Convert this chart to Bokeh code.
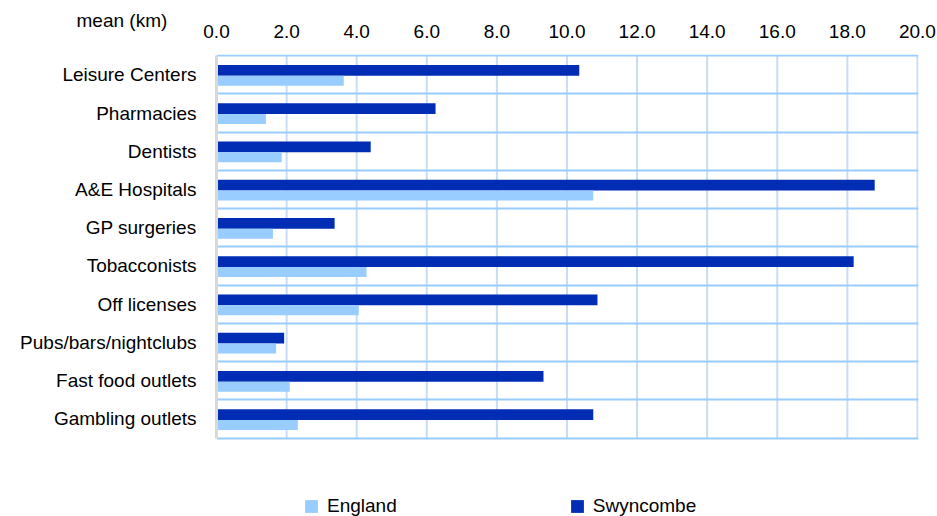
from bokeh.plotting import figure
from bokeh.models import Range1d, FixedTicker, Legend, LegendItem, ColumnDataSource, Title
from bokeh.transform import dodge
from bokeh.embed import file_html
from bokeh.resources import INLINE

categories = ["Leisure Centers", "Pharmacies", "Dentists", "A&E Hospitals", "GP surgeries",
              "Tobacconists", "Off licenses", "Pubs/bars/nightclubs", "Fast food outlets",
              "Gambling outlets"]
england = [3.63, 1.41, 1.86, 10.75, 1.61, 4.28, 4.06, 1.70, 2.09, 2.32]
swyncombe = [10.35, 6.25, 4.40, 18.78, 3.37, 18.18, 10.87, 1.93, 9.33, 10.75]
x_ticks = [0, 2, 4, 6, 8, 10, 12, 14, 16, 18, 20]
x_tick_labels = ["0.0", "2.0", "4.0", "6.0", "8.0", "10.0", "12.0", "14.0", "16.0", "18.0", "20.0"]
axis_title = "mean (km)"
series_names = ["England", "Swyncombe"]

FONT = "Liberation Sans"
FS = "19px"
DARK = "#002DB3"
LIGHT = "#99CCFF"
VGRID = "#C8DCF5"

n = len(categories)
pos = [i + 0.5 for i in range(n)]
src = ColumnDataSource(dict(pos=pos, cat=categories, england=england, swyncombe=swyncombe))

# frame extends below the category bands so that the legend sits inside it
p = figure(width=937, height=516, output_backend="svg", toolbar_location=None,
           x_range=Range1d(0, 20.03), y_range=Range1d(n + 2.05, -0.03),
           x_axis_location="above",
           min_border_left=216, min_border_right=19, min_border_top=54, min_border_bottom=0)
p.outline_line_color = None
p.background_fill_color = "white"
p.border_fill_color = "white"

# vertical grid lines over the category bands only
grid_src = ColumnDataSource(dict(x=x_ticks, y0=[0] * len(x_ticks), y1=[n] * len(x_ticks)))
p.segment(x0="x", x1="x", y0="y0", y1="y1", source=grid_src, line_color=VGRID,
          line_width=2, level="underlay")

r_sw = p.hbar(y=dodge("pos", -0.115, range=p.y_range), right="swyncombe", left=0, height=0.28,
              source=src, fill_color=DARK, line_color=None)
r_en = p.hbar(y=dodge("pos", 0.155, range=p.y_range), right="england", left=0, height=0.26,
              source=src, fill_color=LIGHT, line_color=None)

# x axis (top)
xa = p.xaxis[0]
xa.ticker = FixedTicker(ticks=x_ticks)
xa.major_label_overrides = {t: l for t, l in zip(x_ticks, x_tick_labels)}
xa.axis_line_color = None
xa.major_tick_line_color = None
xa.minor_tick_line_color = None
xa.major_tick_out = 0
xa.major_tick_in = 0
xa.major_label_standoff = 17
xa.major_label_text_font = FONT
xa.major_label_text_font_size = FS
xa.major_label_text_color = "#000000"

# y axis
ya = p.yaxis[0]
ya.ticker = FixedTicker(ticks=pos)
ya.bounds = (0, n)
ya.major_label_overrides = {t: c for t, c in zip(pos, categories)}
ya.axis_line_color = "#D9D9D9"
ya.axis_line_width = 3
ya.major_tick_line_color = None
ya.minor_tick_line_color = None
ya.major_tick_out = 0
ya.major_tick_in = 0
ya.major_label_standoff = 20
ya.major_label_text_font = FONT
ya.major_label_text_font_size = FS
ya.major_label_text_color = "#000000"

# grids
p.xgrid.visible = False
p.ygrid.ticker = FixedTicker(ticks=list(range(n + 1)))
p.ygrid.grid_line_color = LIGHT
p.ygrid.grid_line_width = 2

# axis title, top left
p.add_layout(Title(text=axis_title, align="left", offset=-140, standoff=-18,
                   text_font=FONT, text_font_size=FS, text_font_style="normal",
                   text_color="#000000"), "above")

# legend, inside the (extended) frame below the bands
legend = Legend(items=[LegendItem(label=series_names[0], renderers=[r_en]),
                       LegendItem(label=series_names[1], renderers=[r_sw])],
                location=(87, -1), orientation="horizontal", spacing=172,
                glyph_width=16, glyph_height=16, label_standoff=8,
                padding=0, margin=0, border_line_color=None, background_fill_alpha=0,
                label_text_font=FONT, label_text_font_size=FS, label_text_color="#000000")
p.add_layout(legend, "center")

open("out.html", "w").write(file_html(p, INLINE))
